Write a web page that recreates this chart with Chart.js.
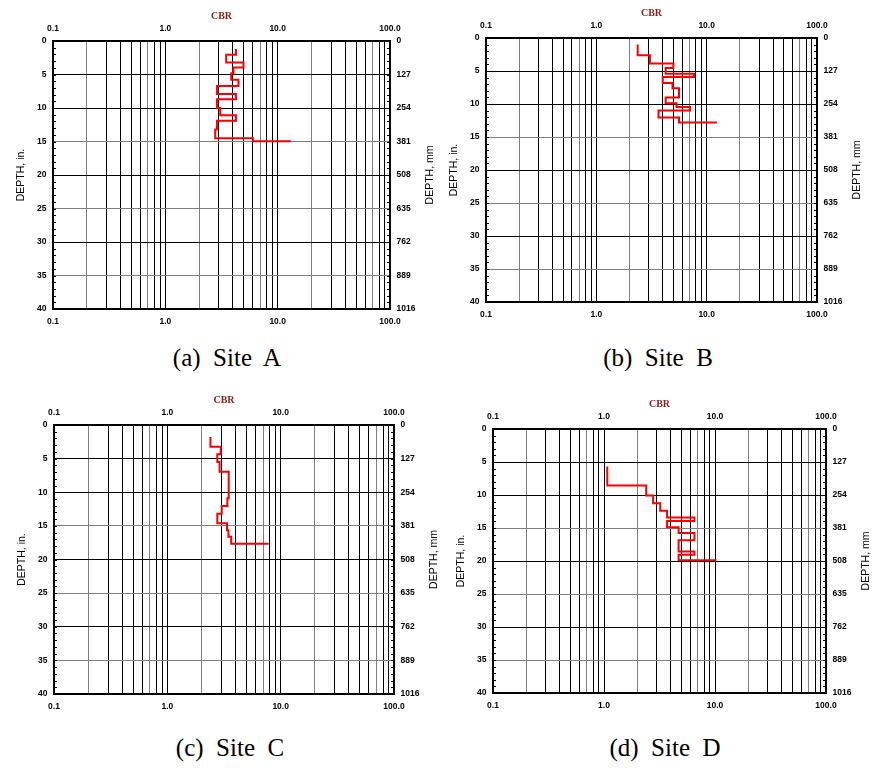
<!DOCTYPE html>
<html>
<head>
<meta charset="utf-8">
<script src="https://cdn.jsdelivr.net/npm/chart.js@4.4.0/dist/chart.umd.min.js"></script>
<style>
  body { margin: 0; background: #fff; width: 892px; height: 773px; position: relative; overflow: hidden; }
  canvas { position: absolute; }
  .cap { position: absolute; font: 25px "Liberation Serif", serif; line-height: 25px; white-space: pre; transform: translateX(-50%); color: #000; }
</style>
</head>
<body>
<canvas id="cA" width="446" height="335" style="left:0px;top:0px"></canvas>
<canvas id="cB" width="446" height="335" style="left:446px;top:0px"></canvas>
<canvas id="cC" width="446" height="335" style="left:0px;top:385px"></canvas>
<canvas id="cD" width="446" height="335" style="left:446px;top:385px"></canvas>
<div class="cap" style="left:227px;top:345px">(a)  Site  A</div>
<div class="cap" style="left:658px;top:345px">(b)  Site  B</div>
<div class="cap" style="left:230px;top:735px">(c)  Site  C</div>
<div class="cap" style="left:665px;top:735px">(d)  Site  D</div>
<script>
// DCP profiles: depth of each layer boundary (in.) and CBR of that layer,
// the last pair is the tail segment at the bottom of the test
const siteADepth = [1.2, 2.05, 3.2, 3.95, 4.8, 5.8, 6.7, 7.9, 8.7, 10.0, 11.1, 11.9, 13.2, 14.5, 14.95];
const siteACbr   = [4.25, 3.48, 4.96, 4.04, 3.86, 4.48, 2.88, 4.25, 2.88, 3.08, 4.25, 2.88, 2.78, 6.02, 13.1];

const siteBDepth = [1.0, 2.6, 3.85, 4.55, 5.4, 5.9, 6.8, 7.6, 9.0, 9.9, 10.45, 11.0, 12.05, 12.8];
const siteBCbr   = [2.37, 3.06, 4.99, 4.25, 7.68, 4.0, 4.9, 5.61, 4.25, 5.33, 7.06, 3.66, 5.61, 12.36];

const siteCDepth = [1.8, 3.25, 4.36, 5.5, 6.95, 10.9, 12.05, 13.2, 14.6, 15.65, 16.6, 17.65];
const siteCCbr   = [2.40, 2.96, 2.76, 2.89, 3.48, 3.39, 3.02, 2.76, 3.36, 3.46, 3.66, 7.85];

const siteDDepth = [5.67, 8.56, 10.08, 11.24, 12.4, 13.4, 13.95, 14.9, 15.75, 16.85, 18.55, 19.05, 19.9];
const siteDCbr   = [1.07, 2.40, 2.77, 3.21, 3.70, 6.53, 3.70, 4.70, 6.53, 4.70, 6.53, 4.70, 10.3];

// axes
const cbrGrid = [0.1, 0.2, 0.3, 0.4, 0.5, 0.6, 0.7, 0.8, 0.9,
                 1, 2, 3, 4, 5, 6, 7, 8, 9,
                 10, 20, 30, 40, 50, 60, 70, 80, 90, 100];
const cbrMajor = [0.1, 1, 10, 100];
const cbrMajorLabels = ['0.1', '1.0', '10.0', '100.0'];
const depthTicks = [0, 5, 10, 15, 20, 25, 30, 35, 40];
const mmLabels = ['0', '127', '254', '381', '508', '635', '762', '889', '1016'];

const tickFont = { family: '"Liberation Sans", Arial, sans-serif', size: 8.5, weight: 'bold' };
const GRAY = '#7f7f7f';

function vShade(v) {
  const d = Math.round(v / Math.pow(10, Math.floor(Math.log10(v) + 1e-9)));
  return (d === 2 || d === 7) ? GRAY : '#000';
}
function hShade(v) {
  return (v === 15 || v === 25 || v === 35) ? GRAY : '#000';
}

function stepPoints(depth, cbr) {
  const pts = [];
  for (let i = 0; i < depth.length - 1; i++) {
    pts.push({ x: cbr[i], y: depth[i] }, { x: cbr[i], y: depth[i + 1] });
  }
  pts.push({ x: cbr[cbr.length - 1], y: depth[depth.length - 1] });
  return pts;
}

// small inch ticks on the inside of left and right frame
const minorTicks = {
  id: 'minorTicks',
  afterDatasetsDraw(chart) {
    const { ctx, chartArea: a } = chart;
    const ys = chart.scales.y;
    ctx.save();
    ctx.strokeStyle = '#000';
    ctx.lineWidth = 1;
    ctx.beginPath();
    for (let d = 1; d < 40; d++) {
      const p = Math.round(ys.getPixelForValue(d)) + 0.5;
      ctx.moveTo(a.left, p); ctx.lineTo(a.left + 3, p);
      ctx.moveTo(a.right - 3, p); ctx.lineTo(a.right, p);
    }
    ctx.stroke();
    ctx.restore();
  }
};

// right axis title reads bottom-to-top like the left one
const rightTitle = {
  id: 'rightTitle',
  afterDraw(chart, args, opts) {
    const { ctx, chartArea: a } = chart;
    ctx.save();
    ctx.translate(a.right + 40, (a.top + a.bottom) / 2);
    ctx.rotate(-Math.PI / 2);
    ctx.font = '10.5px "Liberation Sans", Arial, sans-serif';
    ctx.fillStyle = '#000';
    ctx.textAlign = 'center';
    ctx.textBaseline = 'middle';
    ctx.fillText(opts.text, 0, 0);
    ctx.restore();
  }
};

function makePanel(id, area, depth, cbr) {
  const canvas = document.getElementById(id);
  const w = canvas.width, h = canvas.height;
  const border = { display: true, color: '#000', width: 2 };

  new Chart(canvas, {
    type: 'scatter',
    data: {
      datasets: [{
        data: stepPoints(depth, cbr),
        showLine: true,
        borderColor: '#ff0000',
        borderWidth: 2,
        pointRadius: 0,
        fill: false,
        xAxisID: 'x',
        yAxisID: 'y'
      }]
    },
    options: {
      responsive: false,
      animation: false,
      layout: { padding: 0 },
      plugins: {
        legend: { display: false },
        tooltip: { enabled: false },
        rightTitle: { text: 'DEPTH, mm' }
      },
      scales: {
        x: {
          type: 'logarithmic', position: 'bottom', min: 0.1, max: 100,
          afterBuildTicks: s => { s.ticks = cbrGrid.map(v => ({ value: v })); },
          afterFit: s => { s.height = h - area.b; },
          ticks: {
            autoSkip: false, maxRotation: 0, padding: 7.5, font: tickFont, color: '#000',
            callback: v => { const i = cbrMajor.indexOf(v); return i >= 0 ? cbrMajorLabels[i] : ''; }
          },
          grid: { color: c => vShade(c.tick.value), lineWidth: 1, drawTicks: false },
          border: border
        },
        x2: {
          type: 'logarithmic', position: 'top', min: 0.1, max: 100,
          afterBuildTicks: s => { s.ticks = cbrMajor.map(v => ({ value: v })); },
          afterFit: s => { s.height = area.t; },
          ticks: {
            autoSkip: false, maxRotation: 0, padding: 7.5, font: tickFont, color: '#000',
            callback: (v, i) => cbrMajorLabels[i]
          },
          grid: { display: false, drawTicks: false, tickLength: 0 },
          border: border,
          title: {
            display: true, text: 'CBR', color: '#8b1a1a',
            font: { family: '"Liberation Serif", serif', size: 10, weight: 'bold' },
            padding: { top: area.t - 30.5, bottom: 0 }
          }
        },
        y: {
          type: 'linear', position: 'left', reverse: true, min: 0, max: 40,
          afterBuildTicks: s => { s.ticks = depthTicks.map(v => ({ value: v })); },
          afterFit: s => { s.width = area.l; },
          ticks: { padding: 6.5, font: tickFont, color: '#000' },
          grid: { color: c => hShade(c.tick.value), lineWidth: 1, drawTicks: false },
          border: border,
          title: {
            display: true, text: 'DEPTH, in.', color: '#000',
            font: { family: '"Liberation Sans", Arial, sans-serif', size: 10.5 },
            padding: { top: area.l - 32 - 6.3, bottom: 0 }
          }
        },
        y2: {
          type: 'linear', position: 'right', reverse: true, min: 0, max: 40,
          afterBuildTicks: s => { s.ticks = depthTicks.map(v => ({ value: v })); },
          afterFit: s => { s.width = w - area.r; },
          ticks: { padding: 6.5, font: tickFont, color: '#000', callback: (v, i) => mmLabels[i] },
          grid: { display: false, drawTicks: false, tickLength: 0 },
          border: border
        }
      }
    },
    plugins: [minorTicks, rightTitle]
  });
}

makePanel('cA', { l: 53, r: 390, t: 41, b: 309 }, siteADepth, siteACbr);
makePanel('cB', { l: 40, r: 371, t: 38, b: 302 }, siteBDepth, siteBCbr);
makePanel('cC', { l: 54, r: 394, t: 40, b: 309 }, siteCDepth, siteCCbr);
makePanel('cD', { l: 47, r: 380, t: 44, b: 308 }, siteDDepth, siteDCbr);
</script>
</body>
</html>
